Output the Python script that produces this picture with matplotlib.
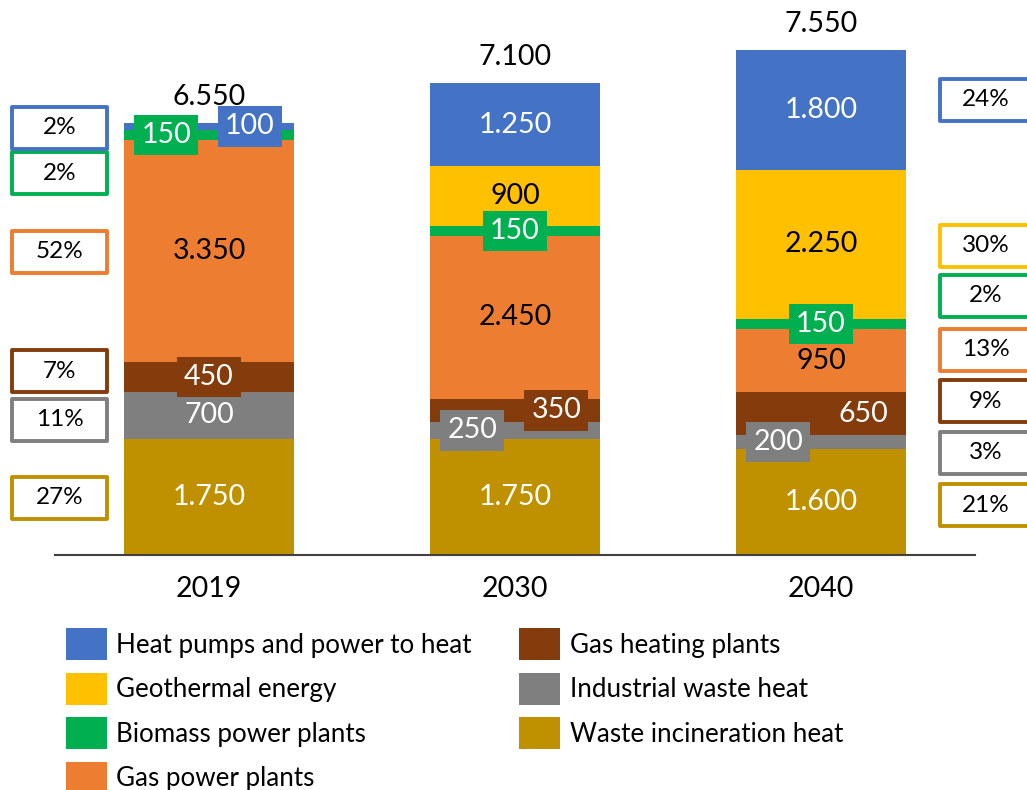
import matplotlib.pyplot as plt
from matplotlib.patches import Rectangle, Patch
import numpy as np

plt.rcParams['font.family'] = ['Lato', 'DejaVu Sans']

years = ["2019", "2030", "2040"]

# stacking order, bottom to top
series = ["Waste incineration heat", "Industrial waste heat", "Gas heating plants",
          "Gas power plants", "Biomass power plants", "Geothermal energy",
          "Heat pumps and power to heat"]
colors = ["#BF9000", "#7F7F7F", "#843C0C", "#ED7D31", "#00B050", "#FFC000", "#4472C4"]

waste = [1750, 1750, 1600]
industrial = [700, 250, 200]
gas_heating = [450, 350, 650]
gas_power = [3350, 2450, 950]
biomass = [150, 150, 150]
geothermal = [0, 900, 2250]
heat_pumps = [100, 1250, 1800]
values = [waste, industrial, gas_heating, gas_power, biomass, geothermal, heat_pumps]

totals = [6550, 7100, 7550]

share_2019 = ["27%", "11%", "7%", "52%", "2%", None, "2%"]
share_2040 = ["21%", "3%", "9%", "13%", "2%", "30%", "24%"]

# label styling / placement
text_colors = ["white", "white", "white", "black", "white", "black", "white"]
boxed = {(0, 2), (0, 4), (0, 6), (1, 1), (1, 2), (1, 4), (2, 1), (2, 4)}
shift = {(0, 4): -0.14, (0, 6): 0.134, (1, 1): -0.14, (1, 2): 0.135,
         (2, 1): -0.14, (2, 2): 0.137}
# centre y (pixels from top) of share boxes
left_box_y = [498, 420, 371, 252, 173, None, 128]
right_box_y = [505, 453, 401, 350, 296, 246, 100]

W, H = 1027, 790
FS = 20.5


def fmt(v):
    return f"{v:,}".replace(",", ".")


fig = plt.figure(figsize=(W / 100, H / 100), dpi=100)
ax = fig.add_axes([55 / W, 235 / H, 920 / W, 555 / H])

x = np.arange(len(years))
bottom = np.zeros(len(years))
handles = []
for j, (vals, name, col) in enumerate(zip(values, series, colors)):
    vals = np.array(vals)
    ax.bar(x, vals, 0.556, bottom=bottom, color=col, edgecolor="none")
    handles.append(Patch(facecolor=col, edgecolor="none", label=name))
    for i in range(len(years)):
        if vals[i] == 0:
            continue
        bb = None
        if (i, j) in boxed:
            bb = dict(boxstyle="square,pad=0.25", facecolor=col, edgecolor="none")
        ax.text(x[i] + shift.get((i, j), 0), bottom[i] + vals[i] / 2, fmt(vals[i]),
                ha="center", va="center", fontsize=FS, color=text_colors[j], bbox=bb)
    bottom += vals

for i in range(len(years)):
    ax.annotate(fmt(totals[i]), (x[i], bottom[i]), xytext=(0, 19),
                textcoords="offset points", ha="center", va="center", fontsize=FS)

ax.set_xlim(-0.503, 2.503)
ax.set_ylim(0, 555 / 0.06645)
ax.set_xticks(x, years, fontsize=FS)
ax.tick_params(axis="x", length=0, pad=15)
ax.set_yticks([])
for s in ["left", "right", "top"]:
    ax.spines[s].set_visible(False)
ax.spines["bottom"].set_color("#404040")
ax.spines["bottom"].set_linewidth(1.5)


def share_box(x0, yc, txt, col, tx):
    fig.add_artist(Rectangle((x0 / W, 1 - (yc + 21) / H), 95 / W, 42 / H,
                             transform=fig.transFigure, facecolor="white",
                             edgecolor=col, lw=2.8, joinstyle="round", clip_on=False))
    fig.text(tx / W, 1 - yc / H, txt, ha="center", va="center", fontsize=17.5)


for j in range(len(series)):
    if share_2019[j] is not None:
        share_box(12, left_box_y[j], share_2019[j], colors[j], 60)
    share_box(940, right_box_y[j], share_2040[j], colors[j], 986)

fig.legend(handles[::-1], [h.get_label() for h in handles[::-1]], ncol=2,
           loc="upper left", bbox_to_anchor=(66 / W, 1 - 628 / H), frameon=False,
           fontsize=18.7, handlelength=1.56, handleheight=1.54, handletextpad=0.38,
           labelspacing=0.47, columnspacing=1.83, borderpad=0, borderaxespad=0)

fig.savefig("out.png", dpi=100)
